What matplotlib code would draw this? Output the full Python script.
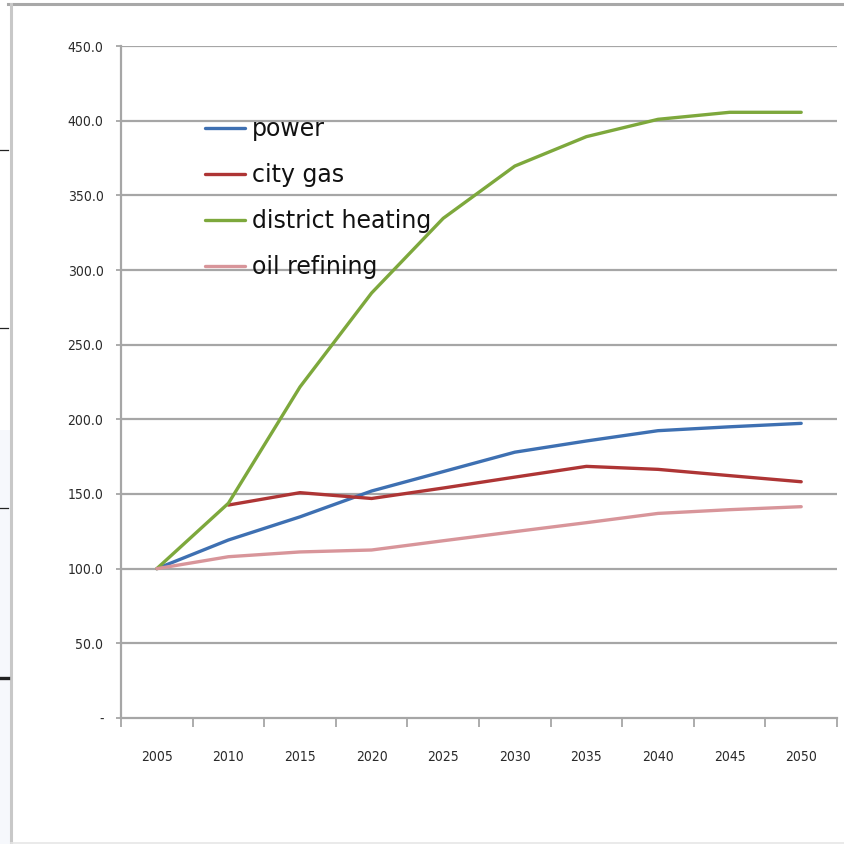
import matplotlib
matplotlib.use("Agg")
import matplotlib.pyplot as plt
from matplotlib.lines import Line2D
import numpy as np

# Index values (2005 = 100)
years = ["2005", "2010", "2015", "2020", "2025", "2030", "2035", "2040", "2045", "2050"]
power = [100.0, 119.2, 134.7, 152.0, 165.0, 178.0, 185.5, 192.4, 195.0, 197.3]
city_gas = [None, 142.6, 150.9, 147.0, 154.0, 161.3, 168.5, 166.5, 162.3, 158.2]
district_heating = [100.0, 143.8, 221.7, 284.6, 334.6, 369.6, 389.3, 400.9, 405.6, 405.6]
oil_refining = [100.0, 108.0, 111.2, 112.5, 118.7, 124.8, 130.8, 137.0, 139.5, 141.5]

series_names = ["power", "city gas", "district heating", "oil refining"]
series_colors = ["#3E70B2", "#AE3535", "#7DA83C", "#D8959A"]

y_ticks = [0, 50, 100, 150, 200, 250, 300, 350, 400, 450]

W, H = 845, 844
fig = plt.figure(figsize=(W / 100, H / 100), dpi=100)
fig.patch.set_facecolor("white")

ax = fig.add_axes([121 / W, 1 - 718 / H, (837 - 121) / W, (718 - 46) / H])
ax.set_facecolor("white")

x = np.arange(len(years))
grid_col = "#A6A6A6"

for yt in y_ticks[1:]:
    ax.axhline(yt, color=grid_col, lw=1.6, zorder=1)

all_series = [power, city_gas, district_heating, oil_refining]
for vals, name, col in zip(all_series, series_names, series_colors):
    arr = np.array([np.nan if v is None else v for v in vals], dtype=float)
    ax.plot(x, arr, color=col, lw=2.4, label=name, zorder=3,
            solid_capstyle="round", solid_joinstyle="round")

ax.set_xlim(-0.5, len(years) - 0.5)
ax.set_ylim(0, 450)

# axes styling
for s in ["top", "right"]:
    ax.spines[s].set_visible(False)
for s in ["left", "bottom"]:
    ax.spines[s].set_color(grid_col)
    ax.spines[s].set_linewidth(1.6)

tick_font = dict(family="DejaVu Sans", stretch="condensed", size=10, color="#2A2A2A")

ax.set_yticks(y_ticks)
ax.set_yticklabels(["-" if v == 0 else f"{v:.1f}" for v in y_ticks], **tick_font)
ax.tick_params(axis="y", length=3.6, width=1.3, color=grid_col, pad=9)

ax.set_xticks(x)
ax.set_xticklabels(years, **tick_font)
ax.tick_params(axis="x", which="major", length=0, pad=23)
ax.set_xticks(np.arange(-0.5, len(years)), minor=True)
ax.tick_params(axis="x", which="minor", length=6.5, width=1.3, color=grid_col)

leg = ax.legend(loc="upper left", bbox_to_anchor=((205 - 121) / (837 - 121), 1 - (117 - 46) / (718 - 46)),
                frameon=False, fontsize=17, handlelength=1.7, handletextpad=0.3,
                labelspacing=0.93, borderaxespad=0, borderpad=0)
for t in leg.get_texts():
    t.set_color("#111111")

# outer sheet frame
fig.add_artist(Line2D([8 / W, 1], [1 - 4 / H, 1 - 4 / H], color="#A8A8A8", lw=2.2, transform=fig.transFigure))
fig.add_artist(Line2D([11 / W, 11 / W], [0, 1 - 4 / H], color="#C8C8C8", lw=2.2, transform=fig.transFigure))
fig.add_artist(Line2D([11 / W, 1], [1.5 / H, 1.5 / H], color="#E6E6E6", lw=1.2, transform=fig.transFigure))
fig.patches.append(plt.Rectangle((0, 0), 10 / W, 1 - 430 / H, transform=fig.transFigure,
                                 facecolor="#F6F8FC", edgecolor="none", zorder=0))
for yy, lw in [(150, 0.9), (328, 0.9), (508, 0.9), (678, 2.4)]:
    fig.add_artist(Line2D([0, 8 / W], [1 - yy / H, 1 - yy / H], color="#222222", lw=lw,
                          transform=fig.transFigure))

fig.savefig("out.png", dpi=100)
